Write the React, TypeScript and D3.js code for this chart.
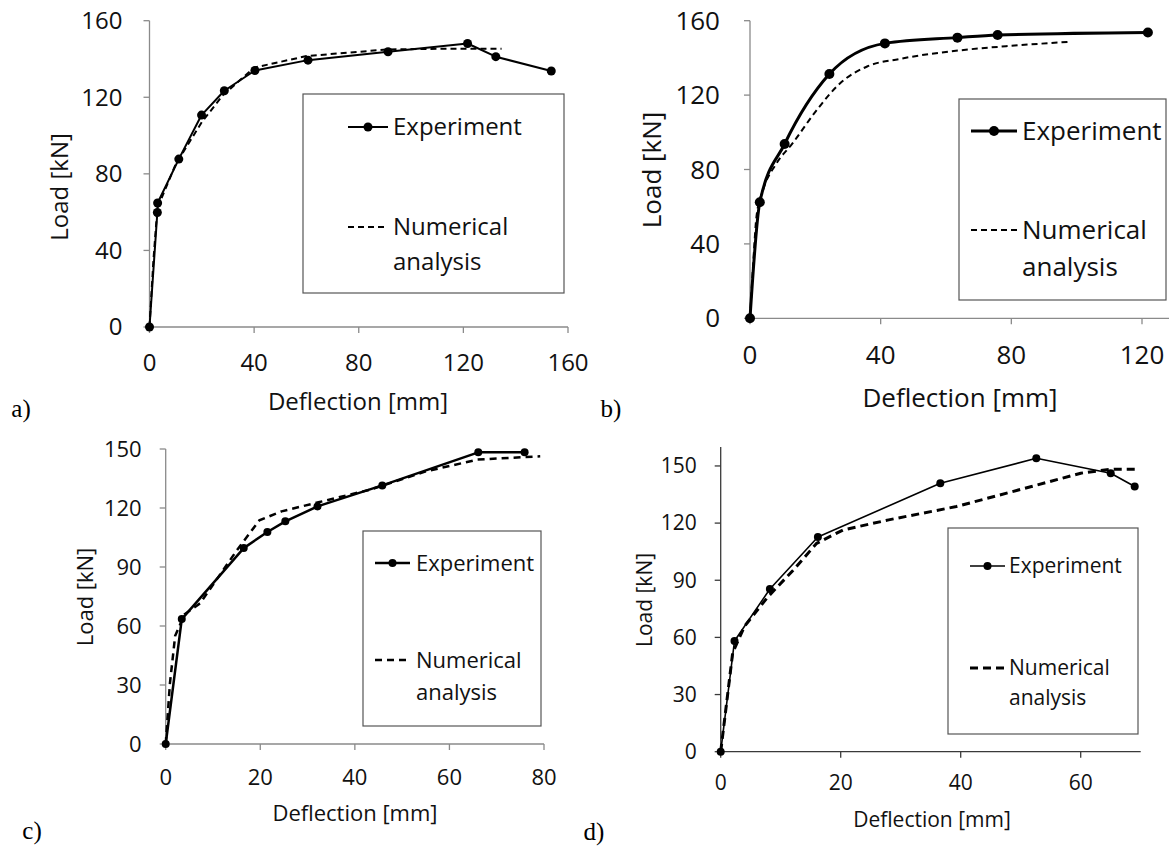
import React, { useEffect, useRef } from "react";
import * as d3 from "d3";

// Load–deflection data, [deflection mm, load kN]
const expA = [[0, 0], [3, 59.8], [3.1, 64.8], [11.2, 87.7], [19.9, 110.7], [28.6, 123.4], [40.3, 134], [60.6, 139.4], [91.2, 143.8], [121.6, 148.1], [132.4, 141.2], [153.6, 133.7]];
const numA = [[0, 0], [1.5, 35], [3, 62], [10, 85], [20, 107], [28, 121], [40, 135.5], [60, 141.5], [91, 145], [110, 145.3], [134.6, 145.3]];

const expB = [[0, 0], [3, 62.4], [10.6, 93.7], [24.3, 131.3], [41.3, 147.8], [63.5, 150.9], [75.8, 152.3], [121.8, 153.7]];
const numB = [[0, 0], [1, 30], [2, 55], [4, 69], [8, 83], [13, 94], [20, 111], [28, 127], [36, 135.5], [46, 139.5], [64, 144], [80, 146.5], [97.4, 148.6]];

const expC = [[0, 0], [3.4, 63.5], [16.5, 99.6], [21.5, 107.8], [25.3, 113.2], [32.1, 120.8], [45.8, 131.5], [66.1, 148.3], [75.9, 148.3]];
const numC = [[0, 0], [0.9, 31], [2, 55], [4, 66], [7.3, 71.6], [15.1, 98.7], [19.8, 113.7], [24.5, 118.3], [32.3, 122.9], [43.2, 129.3], [55, 138.6], [65.9, 144.6], [79.2, 146.3]];

const expD = [[0, 0], [2.3, 58.1], [8.2, 85.4], [16.2, 112.7], [36.6, 140.9], [52.6, 154], [65, 146.2], [69, 139.2]];
const numD = [[0, 0], [2, 52], [4, 66], [7.9, 81.4], [12, 95], [16, 109.4], [20.4, 116.4], [28, 121.7], [39.3, 128.7], [51.8, 139.2], [60, 146.2], [65, 148.3], [69.3, 148.3]];

const ticks160 = [0, 40, 80, 120, 160];
const ticks120 = [0, 40, 80, 120];
const ticks80 = [0, 20, 40, 60, 80];
const ticks60 = [0, 20, 40, 60];
const ticks150 = [0, 30, 60, 90, 120, 150];

const legendLabels = ["Experiment", "Numerical", "analysis"];

const FONT = "'Open Sans', sans-serif";

const panels = [
  {
    tag: "a)", tagPos: [21, 408],
    exp: expA, num: numA, smooth: false,
    xDom: [0, 160], xRange: [149.5, 568], xTicks: ticks160,
    yDom: [0, 160], yRange: [327, 20.7], yTicks: ticks160,
    fs: 24, axisColor: "#8a8a8a",
    yLab: [60, 187], xLab: [358, 402], yTickGap: 27, xTickGap: 36,
    box: [303, 94, 564, 293], legX: [348, 388], legTextX: 393, legY: [127, 227, 262],
    expW: 2, numW: 2, dash: "6,4", r: 4.5,
  },
  {
    tag: "b)", tagPos: [611, 408],
    exp: expB, num: numB, smooth: true,
    xDom: [0, 120], xRange: [750, 1142], xTicks: ticks120, xEnd: 1169,
    yDom: [0, 160], yRange: [318.3, 20.7], yTicks: ticks160,
    fs: 26, axisColor: "#8a8a8a",
    yLab: [652, 170], xLab: [960, 398], yTickGap: 30, xTickGap: 37,
    box: [959, 99, 1166, 300], legX: [971, 1017], legTextX: 1022, legY: [131, 230, 267],
    expW: 3, numW: 2, dash: "6,4", r: 5,
  },
  {
    tag: "c)", tagPos: [32, 830],
    exp: expC, num: numC, smooth: false,
    xDom: [0, 80], xRange: [165.7, 544], xTicks: ticks80,
    yDom: [0, 150], yRange: [744, 449], yTicks: ticks150,
    fs: 22, axisColor: "#8a8a8a",
    yLab: [85, 597], xLab: [355, 813], yTickGap: 24, xTickGap: 33,
    box: [363, 531, 541, 726], legX: [375, 410], legTextX: 416, legY: [563, 660, 692],
    expW: 2.5, numW: 2.5, dash: "7,5", r: 4,
  },
  {
    tag: "d)", tagPos: [594, 831],
    exp: expD, num: numD, smooth: false,
    xDom: [0, 70], xRange: [720.7, 1140.7], xTicks: ticks60,
    yDom: [0, 160], yRange: [751.7, 446.9], yTicks: ticks150,
    fs: 21, axisColor: "#3a3a3a",
    yLab: [645, 600], xLab: [932, 820], yTickGap: 24, xTickGap: 31,
    box: [948, 528, 1138, 734], legX: [970, 1005], legTextX: 1009, legY: [566, 668, 698],
    expW: 1.6, numW: 3, dash: "8,5", r: 4,
  },
];

export default function App() {
  const ref = useRef(null);

  useEffect(() => {
    const svg = d3.select(ref.current);
    svg.selectAll("*").remove();

    panels.forEach((p) => {
      const g = svg.append("g");
      const x = d3.scaleLinear().domain(p.xDom).range(p.xRange);
      const y = d3.scaleLinear().domain(p.yDom).range(p.yRange);
      const x0 = p.xRange[0];
      const y0 = p.yRange[0];
      const xEnd = p.xEnd || p.xRange[1];

      // axes
      g.append("line").attr("x1", x0).attr("x2", xEnd).attr("y1", y0).attr("y2", y0)
        .attr("stroke", p.axisColor).attr("stroke-width", 1.3);
      g.append("line").attr("x1", x0).attr("x2", x0).attr("y1", y0).attr("y2", y(p.yDom[1]))
        .attr("stroke", p.axisColor).attr("stroke-width", 1.3);

      p.xTicks.forEach((t) => {
        g.append("line").attr("x1", x(t)).attr("x2", x(t)).attr("y1", y0).attr("y2", y0 + 6)
          .attr("stroke", p.axisColor).attr("stroke-width", 1.3);
        g.append("text").attr("x", x(t)).attr("y", y0 + p.xTickGap).attr("dy", "0.35em")
          .attr("text-anchor", "middle").attr("font-family", FONT).attr("font-size", p.fs)
          .attr("fill", "#111").text(t);
      });
      p.yTicks.forEach((t) => {
        g.append("line").attr("x1", x0 - 6).attr("x2", x0).attr("y1", y(t)).attr("y2", y(t))
          .attr("stroke", p.axisColor).attr("stroke-width", 1.3);
        g.append("text").attr("x", x0 - p.yTickGap).attr("y", y(t)).attr("dy", "0.35em")
          .attr("text-anchor", "end").attr("font-family", FONT).attr("font-size", p.fs)
          .attr("fill", "#111").text(t);
      });

      // axis titles
      g.append("text").attr("x", p.xLab[0]).attr("y", p.xLab[1]).attr("dy", "0.35em")
        .attr("text-anchor", "middle").attr("font-family", FONT).attr("font-size", p.fs)
        .attr("fill", "#111").text("Deflection [mm]");
      g.append("text").attr("transform", `translate(${p.yLab[0]},${p.yLab[1]}) rotate(-90)`)
        .attr("dy", "0.35em").attr("text-anchor", "middle").attr("font-family", FONT)
        .attr("font-size", p.fs).attr("fill", "#111").text("Load [kN]");

      // panel tag
      g.append("text").attr("x", p.tagPos[0]).attr("y", p.tagPos[1]).attr("dy", "0.35em")
        .attr("text-anchor", "middle").attr("font-family", "'Liberation Serif', serif")
        .attr("font-size", 25).attr("fill", "#000").text(p.tag);

      // series
      const line = d3.line()
        .x((d) => x(d[0]))
        .y((d) => y(d[1]))
        .curve(p.smooth ? d3.curveMonotoneX : d3.curveLinear);

      g.append("path").attr("d", line(p.num)).attr("fill", "none").attr("stroke", "#000")
        .attr("stroke-width", p.numW).attr("stroke-dasharray", p.dash);
      g.append("path").attr("d", line(p.exp)).attr("fill", "none").attr("stroke", "#000")
        .attr("stroke-width", p.expW).attr("stroke-linejoin", "round");
      g.selectAll(".pt").data(p.exp).enter().append("circle")
        .attr("cx", (d) => x(d[0])).attr("cy", (d) => y(d[1])).attr("r", p.r).attr("fill", "#000");

      // legend
      const [bx1, by1, bx2, by2] = p.box;
      g.append("rect").attr("x", bx1).attr("y", by1).attr("width", bx2 - bx1).attr("height", by2 - by1)
        .attr("fill", "#fff").attr("stroke", "#555").attr("stroke-width", 1.2);
      g.append("line").attr("x1", p.legX[0]).attr("x2", p.legX[1]).attr("y1", p.legY[0]).attr("y2", p.legY[0])
        .attr("stroke", "#000").attr("stroke-width", p.expW);
      g.append("circle").attr("cx", (p.legX[0] + p.legX[1]) / 2).attr("cy", p.legY[0]).attr("r", p.r).attr("fill", "#000");
      g.append("line").attr("x1", p.legX[0]).attr("x2", p.legX[1]).attr("y1", p.legY[1]).attr("y2", p.legY[1])
        .attr("stroke", "#000").attr("stroke-width", p.numW).attr("stroke-dasharray", p.dash);
      legendLabels.forEach((lab, i) => {
        g.append("text").attr("x", p.legTextX).attr("y", p.legY[i]).attr("dy", "0.35em")
          .attr("font-family", FONT).attr("font-size", p.fs).attr("fill", "#111").text(lab);
      });
    });
  }, []);

  return (
    <svg
      ref={ref}
      width={1169}
      height={850}
      style={{ position: "absolute", left: 0, top: 0, background: "#fff" }}
    />
  );
}
